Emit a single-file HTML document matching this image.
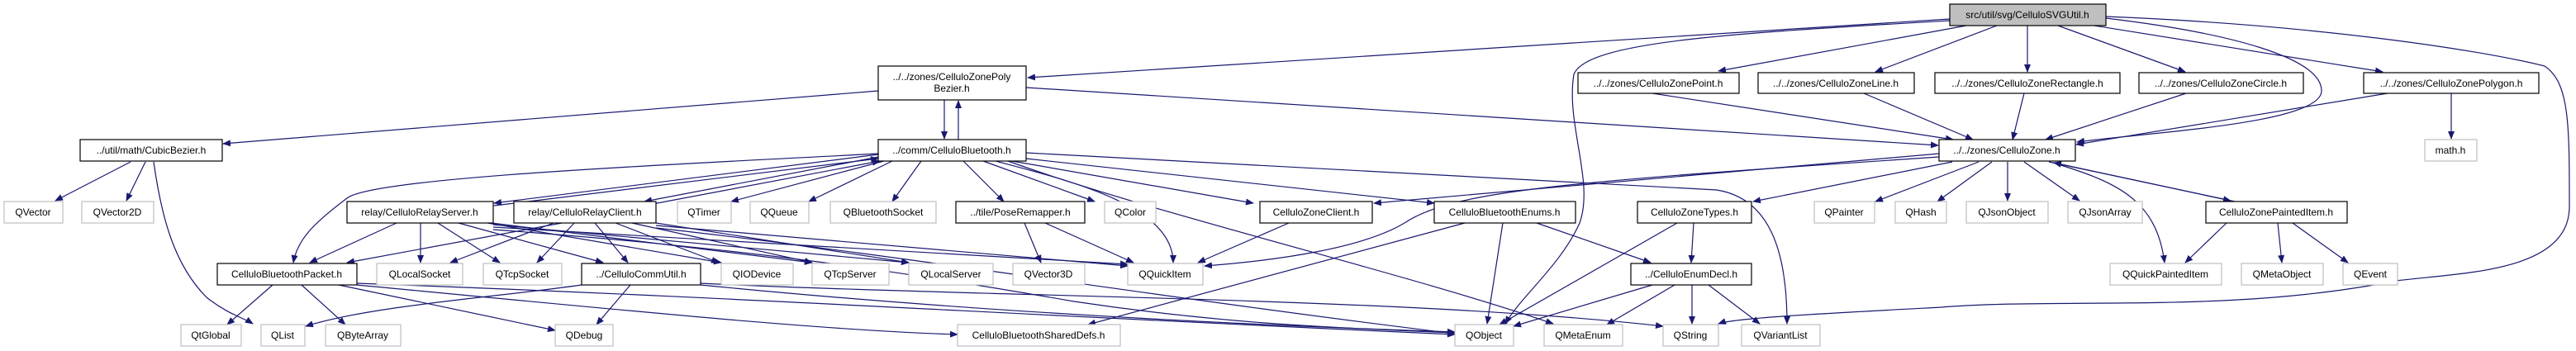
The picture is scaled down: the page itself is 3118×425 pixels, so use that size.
<!DOCTYPE html>
<html><head><meta charset="utf-8"><style>
html,body{margin:0;padding:0;background:#fff;}
svg{display:block;}
text{font-family:"Liberation Sans",sans-serif;font-size:12px;fill:#000;}
.e{fill:none;stroke:#191970;stroke-width:1.2;marker-end:url(#a);}
.n{fill:#fff;stroke:#000;stroke-width:1.2;}
.q{fill:#fff;stroke:#bfbfbf;stroke-width:1.2;}
</style></head><body>
<svg width="3118" height="425" viewBox="0 0 3118 425" xmlns="http://www.w3.org/2000/svg">
<defs><marker id="a" markerWidth="10" markerHeight="8" refX="9" refY="4" orient="auto" markerUnits="userSpaceOnUse"><path d="M0,0 L10,4 L0,8 z" fill="#191970"/></marker></defs>
<g>
<path class="e" d="M2360,23 L1244,94"/>
<path class="e" d="M2360,25 C2100,40 1920,50 1905,90 C1895,150 1930,220 1912,270 C1890,320 1840,360 1822,392"/>
<path class="e" d="M2380,31 L2080,86"/>
<path class="e" d="M2417,31 L2270,87"/>
<path class="e" d="M2454,31 L2454,87"/>
<path class="e" d="M2491,31 L2645,87"/>
<path class="e" d="M2535,31 L2884,87"/>
<path class="e" d="M2549,22 C2700,40 2810,70 2810,110 C2810,150 2600,160 2514,172"/>
<path class="e" d="M2549,20 C2800,30 3000,60 3080,80 C3110,100 3110,150 3110,250 C3110,330 2980,330 2900,340 C2700,380 2500,360 2350,372 C2200,380 2100,385 2080,392"/>
<path class="e" d="M1063,110 L270,174"/>
<path class="e" d="M1143,121 L1143,168"/>
<path class="e" d="M1160,169 L1160,122"/>
<path class="e" d="M1242,106 L2346,176"/>
<path class="e" d="M158,196 L67,243"/>
<path class="e" d="M176,196 L153,243"/>
<path class="e" d="M186,196 C195,260 210,320 250,360 C275,380 295,385 306,392"/>
<path class="e" d="M2000,113 L2364,169"/>
<path class="e" d="M2256,113 L2388,169"/>
<path class="e" d="M2450,113 L2436,169"/>
<path class="e" d="M2646,113 L2476,169"/>
<path class="e" d="M2890,113 L2513,175"/>
<path class="e" d="M2967,113 L2967,168"/>
<path class="e" d="M2347,186 L1663,246"/>
<path class="e" d="M2347,190 C1900,220 1760,230 1700,270 C1650,300 1550,315 1458,322"/>
<path class="e" d="M2363,196 L2122,244"/>
<path class="e" d="M2395,196 L2270,244"/>
<path class="e" d="M2411,196 L2345,244"/>
<path class="e" d="M2430,196 L2430,243"/>
<path class="e" d="M2450,196 L2517,243"/>
<path class="e" d="M2480,196 L2700,243"/>
<path class="e" d="M2705,244 L2486,197"/>
<path class="e" d="M2485,197 C2560,220 2610,240 2620,318"/>
<path class="e" d="M2695,270 L2645,318"/>
<path class="e" d="M2757,270 L2762,318"/>
<path class="e" d="M2775,270 L2842,318"/>
<path class="e" d="M1242,185 L2078,230 C2140,240 2163,300 2163,392"/>
<path class="e" d="M1063,186 C800,200 450,215 420,240 C380,270 360,290 355,318"/>
<path class="e" d="M1063,187 L598,246"/>
<path class="e" d="M1063,190 L780,244"/>
<path class="e" d="M598,249 L1063,192"/>
<path class="e" d="M790,247 L1065,195"/>
<path class="e" d="M1070,195 L885,244"/>
<path class="e" d="M1080,195 L979,244"/>
<path class="e" d="M1115,195 L1080,244"/>
<path class="e" d="M1166,195 L1215,244"/>
<path class="e" d="M1190,195 L1325,244"/>
<path class="e" d="M1205,195 C1300,220 1420,250 1420,318"/>
<path class="e" d="M1225,195 L1517,246"/>
<path class="e" d="M1242,192 L1736,246"/>
<path class="e" d="M1220,195 C1400,260 1700,330 1880,392"/>
<path class="e" d="M480,270 L375,318"/>
<path class="e" d="M509,270 L509,318"/>
<path class="e" d="M530,270 L605,318"/>
<path class="e" d="M555,270 L730,318"/>
<path class="e" d="M590,270 L873,318"/>
<path class="e" d="M595,270 L983,318"/>
<path class="e" d="M597,272 L1100,318"/>
<path class="e" d="M597,275 L1365,320"/>
<path class="e" d="M597,278 C900,300 1100,330 1300,365 C1500,395 1650,398 1761,403"/>
<path class="e" d="M680,270 L420,318"/>
<path class="e" d="M670,270 L545,318"/>
<path class="e" d="M695,270 L650,318"/>
<path class="e" d="M720,270 L760,318"/>
<path class="e" d="M745,270 L870,318"/>
<path class="e" d="M765,270 L983,318"/>
<path class="e" d="M794,270 L1100,318"/>
<path class="e" d="M794,273 L1365,322"/>
<path class="e" d="M794,276 C1100,310 1400,360 1761,404"/>
<path class="e" d="M330,345 L275,393"/>
<path class="e" d="M365,345 L418,393"/>
<path class="e" d="M410,345 L672,400"/>
<path class="e" d="M432,345 C800,380 1000,400 1159,405"/>
<path class="e" d="M432,343 C900,360 1200,380 1761,405"/>
<path class="e" d="M704,345 C600,360 450,370 370,395"/>
<path class="e" d="M763,345 L722,393"/>
<path class="e" d="M848,345 C1100,370 1400,390 1761,402"/>
<path class="e" d="M848,343 C1200,360 1700,360 2013,395"/>
<path class="e" d="M1560,270 L1450,318"/>
<path class="e" d="M1240,270 L1260,318"/>
<path class="e" d="M1265,270 L1372,318"/>
<path class="e" d="M1773,270 L1317,393"/>
<path class="e" d="M1819,270 L1800,392"/>
<path class="e" d="M1860,270 L1998,318"/>
<path class="e" d="M2030,270 L1815,393"/>
<path class="e" d="M2050,270 L2047,318"/>
<path class="e" d="M2000,345 L1832,395"/>
<path class="e" d="M2027,345 L1945,393"/>
<path class="e" d="M2048,345 L2048,392"/>
<path class="e" d="M2068,345 L2130,392"/>
</g>
<g>
<rect x="2360" y="5" width="189" height="26" fill="#bfbfbf" stroke="#000" stroke-width="1.2"/><text x="2454" y="22" text-anchor="middle">src/util/svg/CelluloSVGUtil.h</text>
<rect class="n" x="1063" y="80" width="179" height="41"/><text x="1152" y="97" text-anchor="middle">../../zones/CelluloZonePoly</text><text x="1152" y="111" text-anchor="middle">Bezier.h</text>
<rect class="n" x="1910" y="88" width="195" height="25"/><text x="2007" y="105" text-anchor="middle">../../zones/CelluloZonePoint.h</text>
<rect class="n" x="2128" y="88" width="189" height="25"/><text x="2222" y="105" text-anchor="middle">../../zones/CelluloZoneLine.h</text>
<rect class="n" x="2342" y="88" width="224" height="25"/><text x="2454" y="105" text-anchor="middle">../../zones/CelluloZoneRectangle.h</text>
<rect class="n" x="2589" y="88" width="199" height="25"/><text x="2688" y="105" text-anchor="middle">../../zones/CelluloZoneCircle.h</text>
<rect class="n" x="2861" y="88" width="212" height="25"/><text x="2967" y="105" text-anchor="middle">../../zones/CelluloZonePolygon.h</text>
<rect class="n" x="97" y="169" width="172" height="26"/><text x="183" y="186" text-anchor="middle">../util/math/CubicBezier.h</text>
<rect class="n" x="1063" y="169" width="179" height="26"/><text x="1152" y="186" text-anchor="middle">../comm/CelluloBluetooth.h</text>
<rect class="n" x="2347" y="169" width="165" height="26"/><text x="2429" y="186" text-anchor="middle">../../zones/CelluloZone.h</text>
<rect class="q" x="2935" y="169" width="63" height="26"/><text x="2966" y="186" text-anchor="middle">math.h</text>
<rect class="q" x="5" y="244" width="71" height="26"/><text x="40" y="261" text-anchor="middle">QVector</text>
<rect class="q" x="99" y="244" width="87" height="26"/><text x="142" y="261" text-anchor="middle">QVector2D</text>
<rect class="n" x="420" y="244" width="177" height="26"/><text x="508" y="261" text-anchor="middle">relay/CelluloRelayServer.h</text>
<rect class="n" x="622" y="244" width="172" height="26"/><text x="708" y="261" text-anchor="middle">relay/CelluloRelayClient.h</text>
<rect class="q" x="820" y="244" width="65" height="26"/><text x="852" y="261" text-anchor="middle">QTimer</text>
<rect class="q" x="908" y="244" width="71" height="26"/><text x="943" y="261" text-anchor="middle">QQueue</text>
<rect class="q" x="1005" y="244" width="128" height="26"/><text x="1069" y="261" text-anchor="middle">QBluetoothSocket</text>
<rect class="n" x="1157" y="244" width="156" height="26"/><text x="1235" y="261" text-anchor="middle">../tile/PoseRemapper.h</text>
<rect class="q" x="1337" y="244" width="62" height="26"/><text x="1368" y="261" text-anchor="middle">QColor</text>
<rect class="n" x="1525" y="244" width="136" height="26"/><text x="1593" y="261" text-anchor="middle">CelluloZoneClient.h</text>
<rect class="n" x="1736" y="244" width="171" height="26"/><text x="1821" y="261" text-anchor="middle">CelluloBluetoothEnums.h</text>
<rect class="n" x="1982" y="244" width="138" height="26"/><text x="2051" y="261" text-anchor="middle">CelluloZoneTypes.h</text>
<rect class="q" x="2196" y="244" width="73" height="26"/><text x="2232" y="261" text-anchor="middle">QPainter</text>
<rect class="q" x="2294" y="244" width="62" height="26"/><text x="2325" y="261" text-anchor="middle">QHash</text>
<rect class="q" x="2380" y="244" width="99" height="26"/><text x="2429" y="261" text-anchor="middle">QJsonObject</text>
<rect class="q" x="2503" y="244" width="90" height="26"/><text x="2548" y="261" text-anchor="middle">QJsonArray</text>
<rect class="n" x="2670" y="244" width="171" height="26"/><text x="2755" y="261" text-anchor="middle">CelluloZonePaintedItem.h</text>
<rect class="n" x="263" y="319" width="169" height="26"/><text x="347" y="336" text-anchor="middle">CelluloBluetoothPacket.h</text>
<rect class="q" x="456" y="319" width="104" height="26"/><text x="508" y="336" text-anchor="middle">QLocalSocket</text>
<rect class="q" x="585" y="319" width="95" height="26"/><text x="632" y="336" text-anchor="middle">QTcpSocket</text>
<rect class="n" x="704" y="319" width="144" height="26"/><text x="776" y="336" text-anchor="middle">../CelluloCommUtil.h</text>
<rect class="q" x="873" y="319" width="87" height="26"/><text x="916" y="336" text-anchor="middle">QIODevice</text>
<rect class="q" x="983" y="319" width="93" height="26"/><text x="1029" y="336" text-anchor="middle">QTcpServer</text>
<rect class="q" x="1100" y="319" width="102" height="26"/><text x="1151" y="336" text-anchor="middle">QLocalServer</text>
<rect class="q" x="1226" y="319" width="87" height="26"/><text x="1269" y="336" text-anchor="middle">QVector3D</text>
<rect class="q" x="1365" y="319" width="91" height="26"/><text x="1410" y="336" text-anchor="middle">QQuickItem</text>
<rect class="n" x="1974" y="319" width="146" height="26"/><text x="2047" y="336" text-anchor="middle">../CelluloEnumDecl.h</text>
<rect class="q" x="2554" y="319" width="135" height="26"/><text x="2621" y="336" text-anchor="middle">QQuickPaintedItem</text>
<rect class="q" x="2713" y="319" width="99" height="26"/><text x="2762" y="336" text-anchor="middle">QMetaObject</text>
<rect class="q" x="2836" y="319" width="66" height="26"/><text x="2869" y="336" text-anchor="middle">QEvent</text>
<rect class="q" x="219" y="393" width="73" height="26"/><text x="255" y="410" text-anchor="middle">QtGlobal</text>
<rect class="q" x="316" y="393" width="53" height="26"/><text x="342" y="410" text-anchor="middle">QList</text>
<rect class="q" x="394" y="393" width="91" height="26"/><text x="439" y="410" text-anchor="middle">QByteArray</text>
<rect class="q" x="672" y="393" width="70" height="26"/><text x="707" y="410" text-anchor="middle">QDebug</text>
<rect class="q" x="1159" y="393" width="197" height="26"/><text x="1257" y="410" text-anchor="middle">CelluloBluetoothSharedDefs.h</text>
<rect class="q" x="1761" y="393" width="71" height="26"/><text x="1796" y="410" text-anchor="middle">QObject</text>
<rect class="q" x="1869" y="393" width="95" height="26"/><text x="1916" y="410" text-anchor="middle">QMetaEnum</text>
<rect class="q" x="2013" y="393" width="67" height="26"/><text x="2046" y="410" text-anchor="middle">QString</text>
<rect class="q" x="2108" y="393" width="95" height="26"/><text x="2155" y="410" text-anchor="middle">QVariantList</text>
</g>
</svg>
</body></html>
